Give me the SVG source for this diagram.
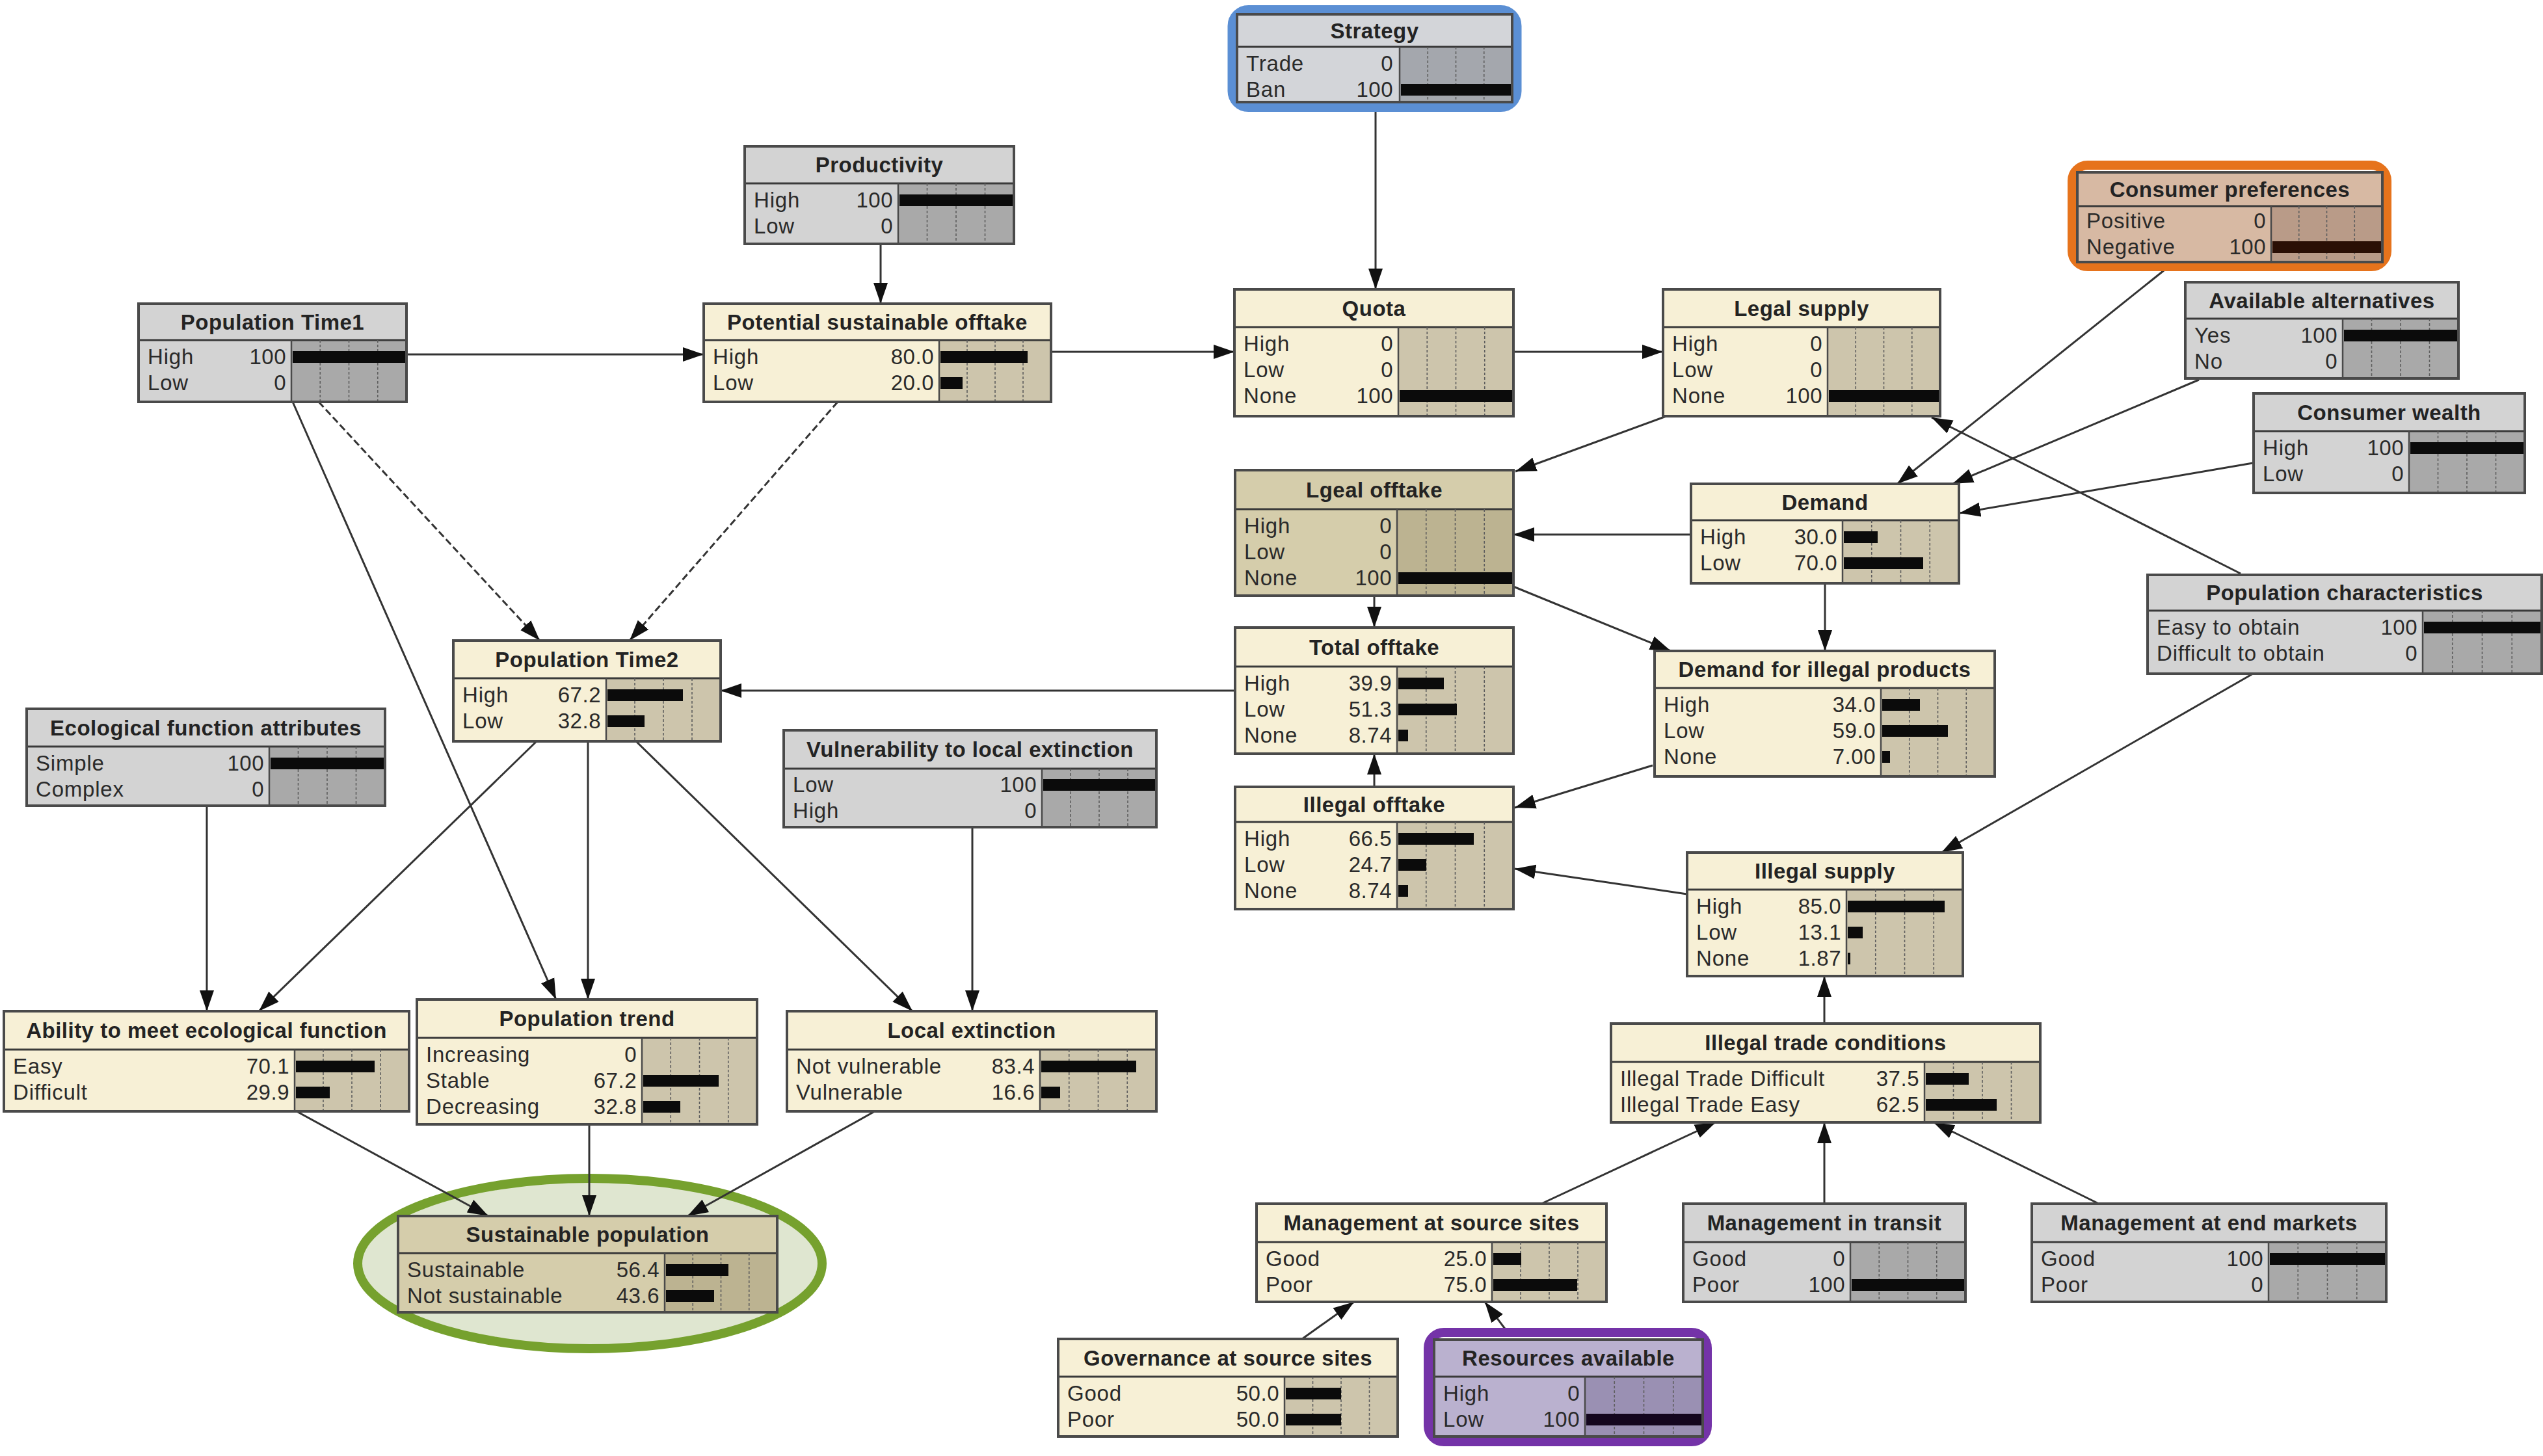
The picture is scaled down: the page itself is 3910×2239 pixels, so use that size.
<svg xmlns="http://www.w3.org/2000/svg" width="3910" height="2239" viewBox="0 0 3910 2239">
<style>
.frame{fill:none;stroke:#4a4a4a;stroke-width:4}
.sep{stroke:#3a3a3a;stroke-width:3}
.grid{fill:none;stroke:#5e5e5e;stroke-width:1.6;stroke-dasharray:4 3}
.barl{stroke:#4a4a4a;stroke-width:2.5}
.bar{fill:#0b0b0b}
.title{font-family:"Liberation Sans",Arial,sans-serif;font-weight:bold;font-size:33px;text-anchor:middle;fill:#232323;letter-spacing:0.5px}
.st{font-family:"Liberation Sans",Arial,sans-serif;font-size:33px;fill:#2a2a2a;letter-spacing:0.8px}
.val{font-family:"Liberation Sans",Arial,sans-serif;font-size:33px;fill:#2a2a2a;text-anchor:end;letter-spacing:0.5px}
.beige .body{fill:#f7f0d6}.beige .ba{fill:#cdc5ac}
.grey .body{fill:#d3d3d3}.grey .ba{fill:#a9a9a9}
.khaki .body{fill:#d5cdab}.khaki .ba{fill:#bcb391}
.strat .body{fill:#d3d5d9}.strat .ba{fill:#a4a7ad}
.pref .body{fill:#d7b9a3}.pref .ba{fill:#b99b88}
.res .body{fill:#bab1cf}.res .ba{fill:#9a90b3}
.hl{fill:none;stroke-width:14}
.conn line{stroke:#333;stroke-width:3;marker-end:url(#ah)}
.conn line.dash{stroke-dasharray:11 5}
</style>
<defs>
<marker id="ah" markerUnits="userSpaceOnUse" markerWidth="34" markerHeight="24" refX="32" refY="12" orient="auto"><path d="M0,1 L32,12 L0,23 z" fill="#111"/></marker>
</defs>
<rect width="3910" height="2239" fill="#ffffff"/>

<g id="sust-highlight">
<ellipse cx="907" cy="1943" rx="357" ry="131" fill="#dfe6d0" stroke="#76a12e" stroke-width="14"/>
</g>

<g id="connectors" class="conn">
<line x1="2115" y1="157" x2="2115" y2="445"/>
<line x1="1354" y1="375" x2="1354" y2="467"/>
<line x1="625" y1="545" x2="1082" y2="545"/>
<line x1="1616" y1="541" x2="1898" y2="541"/>
<line x1="2327" y1="541" x2="2557" y2="541"/>
<line x1="2562" y1="640" x2="2330" y2="725"/>
<line x1="3445" y1="882" x2="2970" y2="642"/>
<line x1="3327" y1="416" x2="2917" y2="744"/>
<line x1="3381" y1="584" x2="3002" y2="744"/>
<line x1="3464" y1="712" x2="3013" y2="789"/>
<line x1="2600" y1="822" x2="2327" y2="822"/>
<line x1="2113" y1="916" x2="2113" y2="965"/>
<line x1="2327" y1="902" x2="2569" y2="1001"/>
<line x1="2806" y1="897" x2="2806" y2="1001"/>
<line x1="1899" y1="1062" x2="1108" y2="1062"/>
<line x1="2113" y1="1210" x2="2113" y2="1159"/>
<line x1="2541" y1="1177" x2="2329" y2="1242"/>
<line x1="2594" y1="1375" x2="2329" y2="1336"/>
<line x1="3464" y1="1036" x2="2985" y2="1311"/>
<line x1="2805" y1="1574" x2="2805" y2="1501"/>
<line x1="2370" y1="1851" x2="2638" y2="1726"/>
<line x1="2805" y1="1851" x2="2805" y2="1726"/>
<line x1="3227" y1="1851" x2="2973" y2="1726"/>
<line x1="2002" y1="2059" x2="2082" y2="2002"/>
<line x1="2316" y1="2046" x2="2283" y2="2002"/>
<line class="dash" x1="490" y1="618" x2="830" y2="985"/>
<line class="dash" x1="1288" y1="618" x2="968" y2="985"/>
<line x1="450" y1="618" x2="855" y2="1537"/>
<line x1="825" y1="1140" x2="398" y2="1555"/>
<line x1="904" y1="1140" x2="904" y2="1537"/>
<line x1="978" y1="1140" x2="1403" y2="1555"/>
<line x1="1495" y1="1272" x2="1495" y2="1555"/>
<line x1="318" y1="1239" x2="318" y2="1555"/>
<line x1="456" y1="1709" x2="751" y2="1870"/>
<line x1="906" y1="1729" x2="906" y2="1870"/>
<line x1="1345" y1="1709" x2="1057" y2="1870"/>
</g>

<g id="node-strategy" class="strat">
<rect class="hl" x="1894.5" y="15" width="438" height="150" rx="25" stroke="#5b8fd4"/>
<rect class="body" x="1902" y="22" width="423" height="135"/>
<rect class="ba" x="2152" y="72" width="173" height="85"/>
<line class="sep" x1="1902" y1="72" x2="2325" y2="72"/>
<path class="grid" d="M2195.25,72V157M2238.5,72V157M2281.75,72V157"/>
<line class="barl" x1="2152" y1="72" x2="2152" y2="157"/>
<text class="title" x="2113.5" y="59">Strategy</text>
<text class="st" x="1916" y="109">Trade</text><text class="val" x="2142" y="109">0</text>
<text class="st" x="1916" y="149">Ban</text><text class="val" x="2142" y="149">100</text>
<rect class="bar" x="2154" y="129" width="169" height="18"/>
<rect class="frame" x="1902" y="22" width="423" height="135"/>
</g>

<g id="node-productivity" class="grey">
<rect class="body" x="1145" y="225" width="414" height="150"/>
<rect class="ba" x="1381" y="282" width="178" height="93"/>
<line class="sep" x1="1145" y1="282" x2="1559" y2="282"/>
<path class="grid" d="M1425.5,282V375M1470,282V375M1514.5,282V375"/>
<line class="barl" x1="1381" y1="282" x2="1381" y2="375"/>
<text class="title" x="1352" y="265">Productivity</text>
<text class="st" x="1159" y="319">High</text><text class="val" x="1373" y="319">100</text>
<text class="st" x="1159" y="359">Low</text><text class="val" x="1373" y="359">0</text>
<rect class="bar" x="1383" y="299" width="174" height="18"/>
<rect class="frame" x="1145" y="225" width="414" height="150"/>
</g>

<g id="node-population-time1" class="grey">
<rect class="body" x="213" y="467" width="412" height="151"/>
<rect class="ba" x="448" y="523" width="177" height="95"/>
<line class="sep" x1="213" y1="523" x2="625" y2="523"/>
<path class="grid" d="M492.25,523V618M536.5,523V618M580.75,523V618"/>
<line class="barl" x1="448" y1="523" x2="448" y2="618"/>
<text class="title" x="419" y="507">Population Time1</text>
<text class="st" x="227" y="560">High</text><text class="val" x="440" y="560">100</text>
<text class="st" x="227" y="600">Low</text><text class="val" x="440" y="600">0</text>
<rect class="bar" x="450" y="540" width="173" height="18"/>
<rect class="frame" x="213" y="467" width="412" height="151"/>
</g>

<g id="node-potential-sustainable-offtake" class="beige">
<rect class="body" x="1082" y="467" width="534" height="151"/>
<rect class="ba" x="1444" y="523" width="172" height="95"/>
<line class="sep" x1="1082" y1="523" x2="1616" y2="523"/>
<path class="grid" d="M1487,523V618M1530,523V618M1573,523V618"/>
<line class="barl" x1="1444" y1="523" x2="1444" y2="618"/>
<text class="title" x="1349" y="507">Potential sustainable offtake</text>
<text class="st" x="1096" y="560">High</text><text class="val" x="1436" y="560">80.0</text>
<text class="st" x="1096" y="600">Low</text><text class="val" x="1436" y="600">20.0</text>
<rect class="bar" x="1446" y="540" width="134" height="18"/>
<rect class="bar" x="1446" y="580" width="34" height="18"/>
<rect class="frame" x="1082" y="467" width="534" height="151"/>
</g>

<g id="node-quota" class="beige">
<rect class="body" x="1898" y="445" width="429" height="195"/>
<rect class="ba" x="2150" y="503" width="177" height="137"/>
<line class="sep" x1="1898" y1="503" x2="2327" y2="503"/>
<path class="grid" d="M2194.25,503V640M2238.5,503V640M2282.75,503V640"/>
<line class="barl" x1="2150" y1="503" x2="2150" y2="640"/>
<text class="title" x="2112.5" y="486">Quota</text>
<text class="st" x="1912" y="540">High</text><text class="val" x="2142" y="540">0</text>
<text class="st" x="1912" y="580">Low</text><text class="val" x="2142" y="580">0</text>
<text class="st" x="1912" y="620">None</text><text class="val" x="2142" y="620">100</text>
<rect class="bar" x="2152" y="600" width="173" height="18"/>
<rect class="frame" x="1898" y="445" width="429" height="195"/>
</g>

<g id="node-legal-supply" class="beige">
<rect class="body" x="2557" y="445" width="426" height="195"/>
<rect class="ba" x="2810" y="503" width="173" height="137"/>
<line class="sep" x1="2557" y1="503" x2="2983" y2="503"/>
<path class="grid" d="M2853.25,503V640M2896.5,503V640M2939.75,503V640"/>
<line class="barl" x1="2810" y1="503" x2="2810" y2="640"/>
<text class="title" x="2770" y="486">Legal supply</text>
<text class="st" x="2571" y="540">High</text><text class="val" x="2802" y="540">0</text>
<text class="st" x="2571" y="580">Low</text><text class="val" x="2802" y="580">0</text>
<text class="st" x="2571" y="620">None</text><text class="val" x="2802" y="620">100</text>
<rect class="bar" x="2812" y="600" width="169" height="18"/>
<rect class="frame" x="2557" y="445" width="426" height="195"/>
</g>

<g id="node-consumer-preferences" class="pref">
<rect class="hl" x="3186" y="254" width="484" height="156" rx="24" stroke="#e6731c"/>
<rect class="body" x="3194" y="265" width="469" height="138"/>
<rect class="ba" x="3492" y="317" width="171" height="86"/>
<line class="sep" x1="3194" y1="317" x2="3663" y2="317"/>
<path class="grid" d="M3534.75,317V403M3577.5,317V403M3620.25,317V403"/>
<line class="barl" x1="3492" y1="317" x2="3492" y2="403"/>
<text class="title" x="3428.5" y="303">Consumer preferences</text>
<text class="st" x="3208" y="351">Positive</text><text class="val" x="3484" y="351">0</text>
<text class="st" x="3208" y="391">Negative</text><text class="val" x="3484" y="391">100</text>
<rect class="bar" x="3494" y="371" width="167" height="18" style="fill:#2a0f05"/>
<rect class="frame" x="3194" y="265" width="469" height="138"/>
</g>

<g id="node-available-alternatives" class="grey">
<rect class="body" x="3360" y="434" width="420" height="148"/>
<rect class="ba" x="3602" y="490" width="178" height="92"/>
<line class="sep" x1="3360" y1="490" x2="3780" y2="490"/>
<path class="grid" d="M3646.5,490V582M3691,490V582M3735.5,490V582"/>
<line class="barl" x1="3602" y1="490" x2="3602" y2="582"/>
<text class="title" x="3570" y="474">Available alternatives</text>
<text class="st" x="3374" y="527">Yes</text><text class="val" x="3594" y="527">100</text>
<text class="st" x="3374" y="567">No</text><text class="val" x="3594" y="567">0</text>
<rect class="bar" x="3604" y="507" width="174" height="18"/>
<rect class="frame" x="3360" y="434" width="420" height="148"/>
</g>

<g id="node-consumer-wealth" class="grey">
<rect class="body" x="3465" y="605" width="417" height="153"/>
<rect class="ba" x="3704" y="663" width="178" height="95"/>
<line class="sep" x1="3465" y1="663" x2="3882" y2="663"/>
<path class="grid" d="M3748.5,663V758M3793,663V758M3837.5,663V758"/>
<line class="barl" x1="3704" y1="663" x2="3704" y2="758"/>
<text class="title" x="3673.5" y="646">Consumer wealth</text>
<text class="st" x="3479" y="700">High</text><text class="val" x="3696" y="700">100</text>
<text class="st" x="3479" y="740">Low</text><text class="val" x="3696" y="740">0</text>
<rect class="bar" x="3706" y="680" width="174" height="18"/>
<rect class="frame" x="3465" y="605" width="417" height="153"/>
</g>

<g id="node-population-characteristics" class="grey">
<rect class="body" x="3302" y="884" width="606" height="152"/>
<rect class="ba" x="3725" y="939" width="183" height="97"/>
<line class="sep" x1="3302" y1="939" x2="3908" y2="939"/>
<path class="grid" d="M3770.75,939V1036M3816.5,939V1036M3862.25,939V1036"/>
<line class="barl" x1="3725" y1="939" x2="3725" y2="1036"/>
<text class="title" x="3605" y="923">Population characteristics</text>
<text class="st" x="3316" y="976">Easy to obtain</text><text class="val" x="3717" y="976">100</text>
<text class="st" x="3316" y="1016">Difficult to obtain</text><text class="val" x="3717" y="1016">0</text>
<rect class="bar" x="3727" y="956" width="179" height="18"/>
<rect class="frame" x="3302" y="884" width="606" height="152"/>
</g>

<g id="node-lgeal-offtake" class="khaki">
<rect class="body" x="1899" y="723" width="428" height="193"/>
<rect class="ba" x="2148" y="783" width="179" height="133"/>
<line class="sep" x1="1899" y1="783" x2="2327" y2="783"/>
<path class="grid" d="M2192.75,783V916M2237.5,783V916M2282.25,783V916"/>
<line class="barl" x1="2148" y1="783" x2="2148" y2="916"/>
<text class="title" x="2113" y="765">Lgeal offtake</text>
<text class="st" x="1913" y="820">High</text><text class="val" x="2140" y="820">0</text>
<text class="st" x="1913" y="860">Low</text><text class="val" x="2140" y="860">0</text>
<text class="st" x="1913" y="900">None</text><text class="val" x="2140" y="900">100</text>
<rect class="bar" x="2150" y="880" width="175" height="18"/>
<rect class="frame" x="1899" y="723" width="428" height="193"/>
</g>

<g id="node-demand" class="beige">
<rect class="body" x="2600" y="744" width="412" height="153"/>
<rect class="ba" x="2833" y="800" width="179" height="97"/>
<line class="sep" x1="2600" y1="800" x2="3012" y2="800"/>
<path class="grid" d="M2877.75,800V897M2922.5,800V897M2967.25,800V897"/>
<line class="barl" x1="2833" y1="800" x2="2833" y2="897"/>
<text class="title" x="2806" y="784">Demand</text>
<text class="st" x="2614" y="837">High</text><text class="val" x="2825" y="837">30.0</text>
<text class="st" x="2614" y="877">Low</text><text class="val" x="2825" y="877">70.0</text>
<rect class="bar" x="2835" y="817" width="52" height="18"/>
<rect class="bar" x="2835" y="857" width="122" height="18"/>
<rect class="frame" x="2600" y="744" width="412" height="153"/>
</g>

<g id="node-total-offtake" class="beige">
<rect class="body" x="1899" y="965" width="428" height="194"/>
<rect class="ba" x="2148" y="1025" width="179" height="134"/>
<line class="sep" x1="1899" y1="1025" x2="2327" y2="1025"/>
<path class="grid" d="M2192.75,1025V1159M2237.5,1025V1159M2282.25,1025V1159"/>
<line class="barl" x1="2148" y1="1025" x2="2148" y2="1159"/>
<text class="title" x="2113" y="1007">Total offtake</text>
<text class="st" x="1913" y="1062">High</text><text class="val" x="2140" y="1062">39.9</text>
<text class="st" x="1913" y="1102">Low</text><text class="val" x="2140" y="1102">51.3</text>
<text class="st" x="1913" y="1142">None</text><text class="val" x="2140" y="1142">8.74</text>
<rect class="bar" x="2150" y="1042" width="70" height="18"/>
<rect class="bar" x="2150" y="1082" width="90" height="18"/>
<rect class="bar" x="2150" y="1122" width="15" height="18"/>
<rect class="frame" x="1899" y="965" width="428" height="194"/>
</g>

<g id="node-illegal-offtake" class="beige">
<rect class="body" x="1899" y="1210" width="428" height="188"/>
<rect class="ba" x="2148" y="1264" width="179" height="134"/>
<line class="sep" x1="1899" y1="1264" x2="2327" y2="1264"/>
<path class="grid" d="M2192.75,1264V1398M2237.5,1264V1398M2282.25,1264V1398"/>
<line class="barl" x1="2148" y1="1264" x2="2148" y2="1398"/>
<text class="title" x="2113" y="1249">Illegal offtake</text>
<text class="st" x="1913" y="1301">High</text><text class="val" x="2140" y="1301">66.5</text>
<text class="st" x="1913" y="1341">Low</text><text class="val" x="2140" y="1341">24.7</text>
<text class="st" x="1913" y="1381">None</text><text class="val" x="2140" y="1381">8.74</text>
<rect class="bar" x="2150" y="1281" width="116" height="18"/>
<rect class="bar" x="2150" y="1321" width="43" height="18"/>
<rect class="bar" x="2150" y="1361" width="15" height="18"/>
<rect class="frame" x="1899" y="1210" width="428" height="188"/>
</g>

<g id="node-demand-for-illegal-products" class="beige">
<rect class="body" x="2544" y="1001" width="523" height="193"/>
<rect class="ba" x="2892" y="1058" width="175" height="136"/>
<line class="sep" x1="2544" y1="1058" x2="3067" y2="1058"/>
<path class="grid" d="M2935.75,1058V1194M2979.5,1058V1194M3023.25,1058V1194"/>
<line class="barl" x1="2892" y1="1058" x2="2892" y2="1194"/>
<text class="title" x="2805.5" y="1041">Demand for illegal products</text>
<text class="st" x="2558" y="1095">High</text><text class="val" x="2884" y="1095">34.0</text>
<text class="st" x="2558" y="1135">Low</text><text class="val" x="2884" y="1135">59.0</text>
<text class="st" x="2558" y="1175">None</text><text class="val" x="2884" y="1175">7.00</text>
<rect class="bar" x="2894" y="1075" width="58" height="18"/>
<rect class="bar" x="2894" y="1115" width="101" height="18"/>
<rect class="bar" x="2894" y="1155" width="12" height="18"/>
<rect class="frame" x="2544" y="1001" width="523" height="193"/>
</g>

<g id="node-illegal-supply" class="beige">
<rect class="body" x="2594" y="1311" width="424" height="190"/>
<rect class="ba" x="2839" y="1368" width="179" height="133"/>
<line class="sep" x1="2594" y1="1368" x2="3018" y2="1368"/>
<path class="grid" d="M2883.75,1368V1501M2928.5,1368V1501M2973.25,1368V1501"/>
<line class="barl" x1="2839" y1="1368" x2="2839" y2="1501"/>
<text class="title" x="2806" y="1351">Illegal supply</text>
<text class="st" x="2608" y="1405">High</text><text class="val" x="2831" y="1405">85.0</text>
<text class="st" x="2608" y="1445">Low</text><text class="val" x="2831" y="1445">13.1</text>
<text class="st" x="2608" y="1485">None</text><text class="val" x="2831" y="1485">1.87</text>
<rect class="bar" x="2841" y="1385" width="149" height="18"/>
<rect class="bar" x="2841" y="1425" width="23" height="18"/>
<rect class="bar" x="2841" y="1465" width="4" height="18"/>
<rect class="frame" x="2594" y="1311" width="424" height="190"/>
</g>

<g id="node-population-time2" class="beige">
<rect class="body" x="697" y="985" width="411" height="155"/>
<rect class="ba" x="932" y="1043" width="176" height="97"/>
<line class="sep" x1="697" y1="1043" x2="1108" y2="1043"/>
<path class="grid" d="M976,1043V1140M1020,1043V1140M1064,1043V1140"/>
<line class="barl" x1="932" y1="1043" x2="932" y2="1140"/>
<text class="title" x="902.5" y="1026">Population Time2</text>
<text class="st" x="711" y="1080">High</text><text class="val" x="924" y="1080">67.2</text>
<text class="st" x="711" y="1120">Low</text><text class="val" x="924" y="1120">32.8</text>
<rect class="bar" x="934" y="1060" width="116" height="18"/>
<rect class="bar" x="934" y="1100" width="57" height="18"/>
<rect class="frame" x="697" y="985" width="411" height="155"/>
</g>

<g id="node-ecological-function-attributes" class="grey">
<rect class="body" x="41" y="1090" width="551" height="149"/>
<rect class="ba" x="414" y="1148" width="178" height="91"/>
<line class="sep" x1="41" y1="1148" x2="592" y2="1148"/>
<path class="grid" d="M458.5,1148V1239M503,1148V1239M547.5,1148V1239"/>
<line class="barl" x1="414" y1="1148" x2="414" y2="1239"/>
<text class="title" x="316.5" y="1131">Ecological function attributes</text>
<text class="st" x="55" y="1185">Simple</text><text class="val" x="406" y="1185">100</text>
<text class="st" x="55" y="1225">Complex</text><text class="val" x="406" y="1225">0</text>
<rect class="bar" x="416" y="1165" width="174" height="18"/>
<rect class="frame" x="41" y="1090" width="551" height="149"/>
</g>

<g id="node-vulnerability-to-local-extinction" class="grey">
<rect class="body" x="1205" y="1123" width="573" height="149"/>
<rect class="ba" x="1602" y="1182" width="176" height="90"/>
<line class="sep" x1="1205" y1="1182" x2="1778" y2="1182"/>
<path class="grid" d="M1646,1182V1272M1690,1182V1272M1734,1182V1272"/>
<line class="barl" x1="1602" y1="1182" x2="1602" y2="1272"/>
<text class="title" x="1491.5" y="1164">Vulnerability to local extinction</text>
<text class="st" x="1219" y="1218">Low</text><text class="val" x="1594" y="1218">100</text>
<text class="st" x="1219" y="1258">High</text><text class="val" x="1594" y="1258">0</text>
<rect class="bar" x="1604" y="1198" width="172" height="18"/>
<rect class="frame" x="1205" y="1123" width="573" height="149"/>
</g>

<g id="node-ability-to-meet-ecological-function" class="beige">
<rect class="body" x="6" y="1555" width="623" height="154"/>
<rect class="ba" x="453" y="1614" width="176" height="95"/>
<line class="sep" x1="6" y1="1614" x2="629" y2="1614"/>
<path class="grid" d="M497,1614V1709M541,1614V1709M585,1614V1709"/>
<line class="barl" x1="453" y1="1614" x2="453" y2="1709"/>
<text class="title" x="317.5" y="1596">Ability to meet ecological function</text>
<text class="st" x="20" y="1651">Easy</text><text class="val" x="445" y="1651">70.1</text>
<text class="st" x="20" y="1691">Difficult</text><text class="val" x="445" y="1691">29.9</text>
<rect class="bar" x="455" y="1631" width="121" height="18"/>
<rect class="bar" x="455" y="1671" width="52" height="18"/>
<rect class="frame" x="6" y="1555" width="623" height="154"/>
</g>

<g id="node-population-trend" class="beige">
<rect class="body" x="641" y="1537" width="523" height="192"/>
<rect class="ba" x="987" y="1596" width="177" height="133"/>
<line class="sep" x1="641" y1="1596" x2="1164" y2="1596"/>
<path class="grid" d="M1031.25,1596V1729M1075.5,1596V1729M1119.75,1596V1729"/>
<line class="barl" x1="987" y1="1596" x2="987" y2="1729"/>
<text class="title" x="902.5" y="1578">Population trend</text>
<text class="st" x="655" y="1633">Increasing</text><text class="val" x="979" y="1633">0</text>
<text class="st" x="655" y="1673">Stable</text><text class="val" x="979" y="1673">67.2</text>
<text class="st" x="655" y="1713">Decreasing</text><text class="val" x="979" y="1713">32.8</text>
<rect class="bar" x="989" y="1653" width="116" height="18"/>
<rect class="bar" x="989" y="1693" width="57" height="18"/>
<rect class="frame" x="641" y="1537" width="523" height="192"/>
</g>

<g id="node-local-extinction" class="beige">
<rect class="body" x="1210" y="1555" width="568" height="154"/>
<rect class="ba" x="1599" y="1614" width="179" height="95"/>
<line class="sep" x1="1210" y1="1614" x2="1778" y2="1614"/>
<path class="grid" d="M1643.75,1614V1709M1688.5,1614V1709M1733.25,1614V1709"/>
<line class="barl" x1="1599" y1="1614" x2="1599" y2="1709"/>
<text class="title" x="1494" y="1596">Local extinction</text>
<text class="st" x="1224" y="1651">Not vulnerable</text><text class="val" x="1591" y="1651">83.4</text>
<text class="st" x="1224" y="1691">Vulnerable</text><text class="val" x="1591" y="1691">16.6</text>
<rect class="bar" x="1601" y="1631" width="146" height="18"/>
<rect class="bar" x="1601" y="1671" width="29" height="18"/>
<rect class="frame" x="1210" y="1555" width="568" height="154"/>
</g>

<g id="node-sustainable-population" class="khaki">
<rect class="body" x="612" y="1870" width="583" height="148"/>
<rect class="ba" x="1022" y="1927" width="173" height="91"/>
<line class="sep" x1="612" y1="1927" x2="1195" y2="1927"/>
<path class="grid" d="M1065.25,1927V2018M1108.5,1927V2018M1151.75,1927V2018"/>
<line class="barl" x1="1022" y1="1927" x2="1022" y2="2018"/>
<text class="title" x="903.5" y="1910">Sustainable population</text>
<text class="st" x="626" y="1964">Sustainable</text><text class="val" x="1014" y="1964">56.4</text>
<text class="st" x="626" y="2004">Not sustainable</text><text class="val" x="1014" y="2004">43.6</text>
<rect class="bar" x="1024" y="1944" width="96" height="18"/>
<rect class="bar" x="1024" y="1984" width="74" height="18"/>
<rect class="frame" x="612" y="1870" width="583" height="148"/>
</g>

<g id="node-illegal-trade-conditions" class="beige">
<rect class="body" x="2477" y="1574" width="660" height="152"/>
<rect class="ba" x="2959" y="1633" width="178" height="93"/>
<line class="sep" x1="2477" y1="1633" x2="3137" y2="1633"/>
<path class="grid" d="M3003.5,1633V1726M3048,1633V1726M3092.5,1633V1726"/>
<line class="barl" x1="2959" y1="1633" x2="2959" y2="1726"/>
<text class="title" x="2807" y="1615">Illegal trade conditions</text>
<text class="st" x="2491" y="1670">Illegal Trade Difficult</text><text class="val" x="2951" y="1670">37.5</text>
<text class="st" x="2491" y="1710">Illegal Trade Easy</text><text class="val" x="2951" y="1710">62.5</text>
<rect class="bar" x="2961" y="1650" width="66" height="18"/>
<rect class="bar" x="2961" y="1690" width="109" height="18"/>
<rect class="frame" x="2477" y="1574" width="660" height="152"/>
</g>

<g id="node-management-at-source-sites" class="beige">
<rect class="body" x="1932" y="1851" width="538" height="151"/>
<rect class="ba" x="2294" y="1910" width="176" height="92"/>
<line class="sep" x1="1932" y1="1910" x2="2470" y2="1910"/>
<path class="grid" d="M2338,1910V2002M2382,1910V2002M2426,1910V2002"/>
<line class="barl" x1="2294" y1="1910" x2="2294" y2="2002"/>
<text class="title" x="2201" y="1892">Management at source sites</text>
<text class="st" x="1946" y="1947">Good</text><text class="val" x="2286" y="1947">25.0</text>
<text class="st" x="1946" y="1987">Poor</text><text class="val" x="2286" y="1987">75.0</text>
<rect class="bar" x="2296" y="1927" width="43" height="18"/>
<rect class="bar" x="2296" y="1967" width="129" height="18"/>
<rect class="frame" x="1932" y="1851" width="538" height="151"/>
</g>

<g id="node-management-in-transit" class="grey">
<rect class="body" x="2588" y="1851" width="434" height="151"/>
<rect class="ba" x="2845" y="1910" width="177" height="92"/>
<line class="sep" x1="2588" y1="1910" x2="3022" y2="1910"/>
<path class="grid" d="M2889.25,1910V2002M2933.5,1910V2002M2977.75,1910V2002"/>
<line class="barl" x1="2845" y1="1910" x2="2845" y2="2002"/>
<text class="title" x="2805" y="1892">Management in transit</text>
<text class="st" x="2602" y="1947">Good</text><text class="val" x="2837" y="1947">0</text>
<text class="st" x="2602" y="1987">Poor</text><text class="val" x="2837" y="1987">100</text>
<rect class="bar" x="2847" y="1967" width="173" height="18"/>
<rect class="frame" x="2588" y="1851" width="434" height="151"/>
</g>

<g id="node-management-at-end-markets" class="grey">
<rect class="body" x="3124" y="1851" width="545" height="151"/>
<rect class="ba" x="3488" y="1910" width="181" height="92"/>
<line class="sep" x1="3124" y1="1910" x2="3669" y2="1910"/>
<path class="grid" d="M3533.25,1910V2002M3578.5,1910V2002M3623.75,1910V2002"/>
<line class="barl" x1="3488" y1="1910" x2="3488" y2="2002"/>
<text class="title" x="3396.5" y="1892">Management at end markets</text>
<text class="st" x="3138" y="1947">Good</text><text class="val" x="3480" y="1947">100</text>
<text class="st" x="3138" y="1987">Poor</text><text class="val" x="3480" y="1987">0</text>
<rect class="bar" x="3490" y="1927" width="177" height="18"/>
<rect class="frame" x="3124" y="1851" width="545" height="151"/>
</g>

<g id="node-governance-at-source-sites" class="beige">
<rect class="body" x="1627" y="2059" width="522" height="150"/>
<rect class="ba" x="1975" y="2117" width="174" height="92"/>
<line class="sep" x1="1627" y1="2117" x2="2149" y2="2117"/>
<path class="grid" d="M2018.5,2117V2209M2062,2117V2209M2105.5,2117V2209"/>
<line class="barl" x1="1975" y1="2117" x2="1975" y2="2209"/>
<text class="title" x="1888" y="2100">Governance at source sites</text>
<text class="st" x="1641" y="2154">Good</text><text class="val" x="1967" y="2154">50.0</text>
<text class="st" x="1641" y="2194">Poor</text><text class="val" x="1967" y="2194">50.0</text>
<rect class="bar" x="1977" y="2134" width="85" height="18"/>
<rect class="bar" x="1977" y="2174" width="85" height="18"/>
<rect class="frame" x="1627" y="2059" width="522" height="150"/>
</g>

<g id="node-resources-available" class="res">
<rect class="hl" x="2196" y="2049" width="429" height="168" rx="24" stroke="#7433a8"/>
<rect class="body" x="2205" y="2060" width="413" height="149"/>
<rect class="ba" x="2437" y="2117" width="181" height="92"/>
<line class="sep" x1="2205" y1="2117" x2="2618" y2="2117"/>
<path class="grid" d="M2482.25,2117V2209M2527.5,2117V2209M2572.75,2117V2209"/>
<line class="barl" x1="2437" y1="2117" x2="2437" y2="2209"/>
<text class="title" x="2411.5" y="2100">Resources available</text>
<text class="st" x="2219" y="2154">High</text><text class="val" x="2429" y="2154">0</text>
<text class="st" x="2219" y="2194">Low</text><text class="val" x="2429" y="2194">100</text>
<rect class="bar" x="2439" y="2174" width="177" height="18" style="fill:#14061e"/>
<rect class="frame" x="2205" y="2060" width="413" height="149"/>
</g>
</svg>
